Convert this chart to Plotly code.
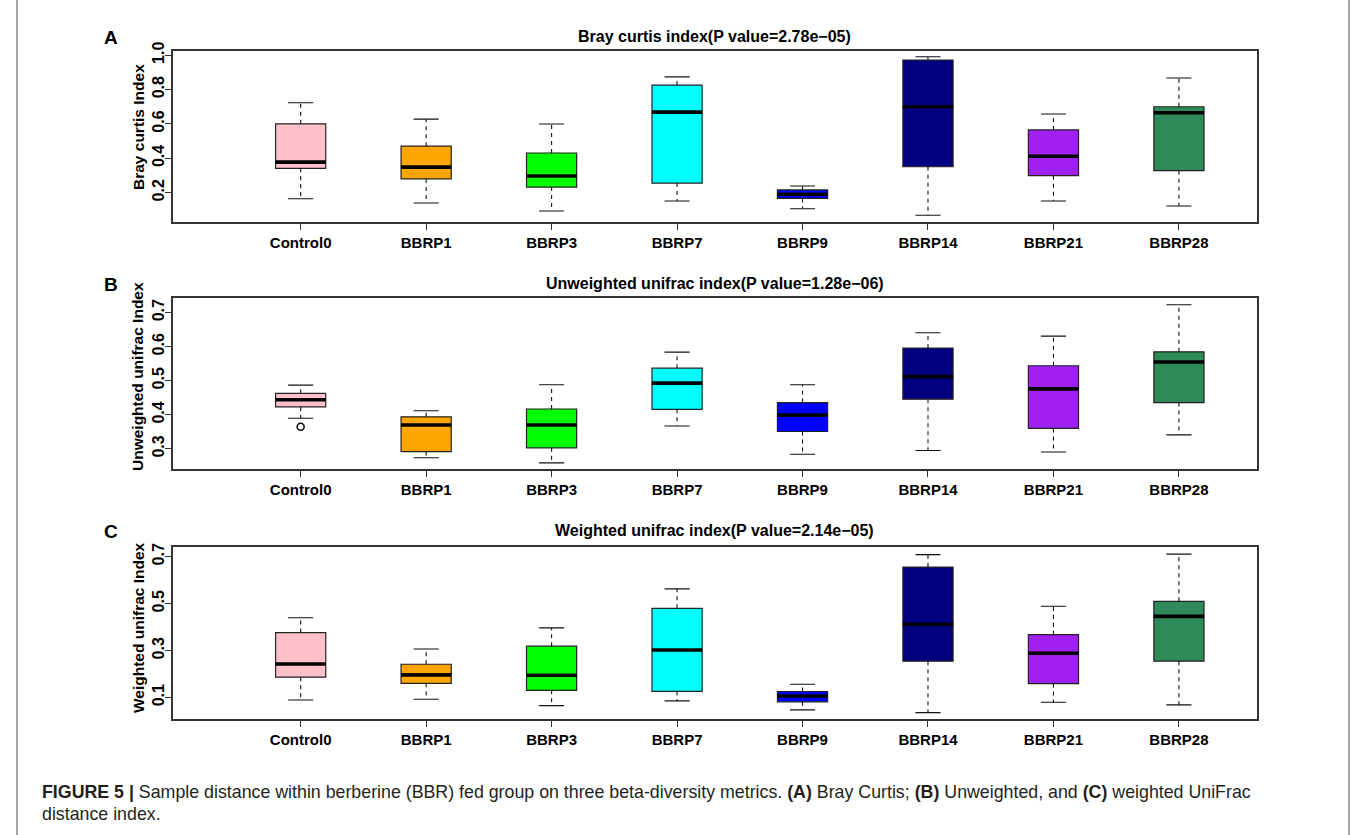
import plotly.graph_objects as go

# ---------------- data ----------------
categories = ["Control0", "BBRP1", "BBRP3", "BBRP7", "BBRP9", "BBRP14", "BBRP21", "BBRP28"]
box_colors = ["#FFC0CB", "#FFA500", "#00FF00", "#00FFFF", "#0000FF", "#000080", "#A020F0", "#2E8B57"]

# Panel A: Bray curtis
bray_lower = [0.165, 0.140, 0.094, 0.152, 0.107, 0.069, 0.152, 0.123]
bray_q1 = [0.342, 0.280, 0.233, 0.256, 0.167, 0.351, 0.299, 0.328]
bray_median = [0.378, 0.349, 0.297, 0.669, 0.191, 0.700, 0.412, 0.665]
bray_q3 = [0.601, 0.471, 0.431, 0.826, 0.216, 0.972, 0.565, 0.700]
bray_upper = [0.723, 0.628, 0.600, 0.874, 0.239, 0.991, 0.658, 0.867]
bray_outliers = [[], [], [], [], [], [], [], []]

# Panel B: Unweighted unifrac
unw_lower = [0.390, 0.274, 0.259, 0.367, 0.284, 0.295, 0.291, 0.341]
unw_q1 = [0.423, 0.292, 0.303, 0.416, 0.351, 0.446, 0.360, 0.436]
unw_median = [0.444, 0.370, 0.370, 0.493, 0.399, 0.512, 0.476, 0.555]
unw_q3 = [0.463, 0.394, 0.417, 0.537, 0.436, 0.596, 0.544, 0.585]
unw_upper = [0.487, 0.412, 0.488, 0.584, 0.488, 0.641, 0.631, 0.723]
unw_outliers = [[0.365], [], [], [], [], [], [], []]

# Panel C: Weighted unifrac
w_lower = [0.090, 0.093, 0.066, 0.086, 0.048, 0.036, 0.080, 0.069]
w_q1 = [0.187, 0.161, 0.131, 0.127, 0.082, 0.255, 0.160, 0.255]
w_median = [0.243, 0.197, 0.195, 0.303, 0.107, 0.412, 0.289, 0.446]
w_q3 = [0.377, 0.242, 0.319, 0.480, 0.126, 0.656, 0.368, 0.510]
w_upper = [0.440, 0.307, 0.397, 0.563, 0.157, 0.709, 0.489, 0.711]
w_outliers = [[], [], [], [], [], [], [], []]

panel_titles = [
    "Bray curtis index(P value=2.78e\u221205)",
    "Unweighted unifrac index(P value=1.28e\u221206)",
    "Weighted unifrac index(P value=2.14e\u221205)",
]
y_titles = ["Bray curtis Index", "Unweighted unifrac Index", "Weighted unifrac Index"]
panel_letters = ["A", "B", "C"]
y_ticks = [[0.2, 0.4, 0.6, 0.8, 1.0], [0.3, 0.4, 0.5, 0.6, 0.7], [0.1, 0.3, 0.5, 0.7]]
y_ranges = [[0.028, 1.026], [0.240, 0.742], [0.009, 0.740]]

caption_line1 = ("<b>FIGURE 5 |</b> Sample distance within berberine (BBR) fed group on three "
                 "beta-diversity metrics. <b>(A)</b> Bray Curtis; <b>(B)</b> Unweighted, and "
                 "<b>(C)</b> weighted UniFrac")
caption_line2 = "distance index."

# ---------------- layout geometry ----------------
W, H = 1357, 835
x_dom = [172.7 / W, 1256.7 / W]
y_doms = [
    [1 - 222.3 / H, 1 - 50.7 / H],
    [1 - 469.3 / H, 1 - 298.3 / H],
    [1 - 719.0 / H, 1 - 547.3 / H],
]
title_y_px = [37, 283, 530]
ytitle_y_px = [127, 377, 628]

BOX_W = 0.4
CAP_W = 0.2
xs = list(range(1, len(categories) + 1))

panels = [
    (bray_lower, bray_q1, bray_median, bray_q3, bray_upper, bray_outliers),
    (unw_lower, unw_q1, unw_median, unw_q3, unw_upper, unw_outliers),
    (w_lower, w_q1, w_median, w_q3, w_upper, w_outliers),
]

fig = go.Figure()
BF = "Liberation Sans, Arial, Helvetica, sans-serif"

for p, (lo, q1, med, q3, up, outl) in enumerate(panels):
    suffix = "" if p == 0 else str(p + 1)
    xa, ya = "x" + suffix, "y" + suffix

    # boxes
    fig.add_trace(go.Bar(
        x=xs, y=[b - a for a, b in zip(q1, q3)], base=q1, width=BOX_W,
        marker=dict(color=box_colors, line=dict(color="#222222", width=1.2)),
        xaxis=xa, yaxis=ya, showlegend=False, hoverinfo="skip"))

    # dashed whiskers
    wx, wy = [], []
    for i, x in enumerate(xs):
        wx += [x, x, None, x, x, None]
        wy += [q3[i], up[i], None, q1[i], lo[i], None]
    fig.add_trace(go.Scatter(x=wx, y=wy, mode="lines",
                             line=dict(color="#111111", width=1.1, dash="4px,4px"),
                             xaxis=xa, yaxis=ya, showlegend=False, hoverinfo="skip"))

    # caps
    cx, cy = [], []
    for i, x in enumerate(xs):
        cx += [x - CAP_W / 2, x + CAP_W / 2, None, x - CAP_W / 2, x + CAP_W / 2, None]
        cy += [up[i], up[i], None, lo[i], lo[i], None]
    fig.add_trace(go.Scatter(x=cx, y=cy, mode="lines",
                             line=dict(color="#111111", width=1.1),
                             xaxis=xa, yaxis=ya, showlegend=False, hoverinfo="skip"))

    # medians
    mx, my = [], []
    for i, x in enumerate(xs):
        mx += [x - BOX_W / 2, x + BOX_W / 2, None]
        my += [med[i], med[i], None]
    fig.add_trace(go.Scatter(x=mx, y=my, mode="lines",
                             line=dict(color="#000000", width=3.6),
                             xaxis=xa, yaxis=ya, showlegend=False, hoverinfo="skip"))

    # outliers
    ox, oy = [], []
    for i, x in enumerate(xs):
        for v in outl[i]:
            ox.append(x)
            oy.append(v)
    if ox:
        fig.add_trace(go.Scatter(x=ox, y=oy, mode="markers",
                                 marker=dict(symbol="circle-open", size=7, color="#111111",
                                             line=dict(width=1.6)),
                                 xaxis=xa, yaxis=ya, showlegend=False, hoverinfo="skip"))

    axis_common = dict(showline=True, mirror=True, linecolor="#333333", linewidth=1.5,
                       ticks="outside", ticklen=6, tickwidth=1.1, tickcolor="#333333",
                       showgrid=False, zeroline=False, automargin=False)
    fig.update_layout(**{
        ("xaxis" + suffix): dict(domain=x_dom, range=[-0.02, 8.62], tickmode="array",
                                 tickvals=xs, ticktext=categories, anchor=ya,
                                 ticklabelstandoff=0,
                                 tickfont=dict(family=BF, size=15, color="#000000", weight="bold"),
                                 **axis_common),
        ("yaxis" + suffix): dict(domain=y_doms[p], range=y_ranges[p], tickmode="array",
                                 tickvals=y_ticks[p], ticktext=[f"{v:.1f}" for v in y_ticks[p]],
                                 tickangle=-90, anchor=xa, ticklabelstandoff=-5,
                                 tickfont=dict(family=BF, size=16, color="#000000", weight="bold"),
                                 **axis_common),
    })

    # panel title
    fig.add_annotation(x=(x_dom[0] + x_dom[1]) / 2, y=1 - title_y_px[p] / H, xref="paper", yref="paper",
                       text="<b>" + panel_titles[p] + "</b>", showarrow=False,
                       font=dict(family=BF, size=16, color="#000000"),
                       xanchor="center", yanchor="middle")
    # panel letter
    fig.add_annotation(x=111 / W, y=1 - (title_y_px[p] + 1) / H, xref="paper", yref="paper",
                       text="<b>" + panel_letters[p] + "</b>", showarrow=False,
                       font=dict(family=BF, size=19, color="#000000"),
                       xanchor="center", yanchor="middle")
    # y title
    fig.add_annotation(x=138 / W, y=1 - ytitle_y_px[p] / H, xref="paper", yref="paper",
                       text="<b>" + y_titles[p] + "</b>", showarrow=False, textangle=-90,
                       font=dict(family=BF, size=15.5, color="#000000"),
                       xanchor="center", yanchor="middle")

# caption
fig.add_annotation(x=40 / W, y=1 - 792 / H, xref="paper", yref="paper", text=caption_line1,
                   showarrow=False, xanchor="left", yanchor="middle", align="left",
                   font=dict(family=BF, size=17.8, color="#231F20"))
fig.add_annotation(x=40 / W, y=1 - 814 / H, xref="paper", yref="paper", text=caption_line2,
                   showarrow=False, xanchor="left", yanchor="middle", align="left",
                   font=dict(family=BF, size=17.8, color="#231F20"))

# page frame lines
fig.add_shape(type="line", xref="paper", yref="paper", x0=17 / W, x1=17 / W, y0=0, y1=1,
              line=dict(color="#888888", width=1.5))
fig.add_shape(type="line", xref="paper", yref="paper", x0=1349 / W, x1=1349 / W, y0=0, y1=1,
              line=dict(color="#888888", width=1.5))

fig.update_layout(width=W, height=H, margin=dict(l=0, r=0, t=0, b=0, autoexpand=False),
                  paper_bgcolor="white", plot_bgcolor="white", barmode="overlay",
                  showlegend=False)

fig.write_html("out.html", config={"displayModeBar": False},
               post_script="document.body.style.margin='0';document.body.style.overflow='hidden';")
